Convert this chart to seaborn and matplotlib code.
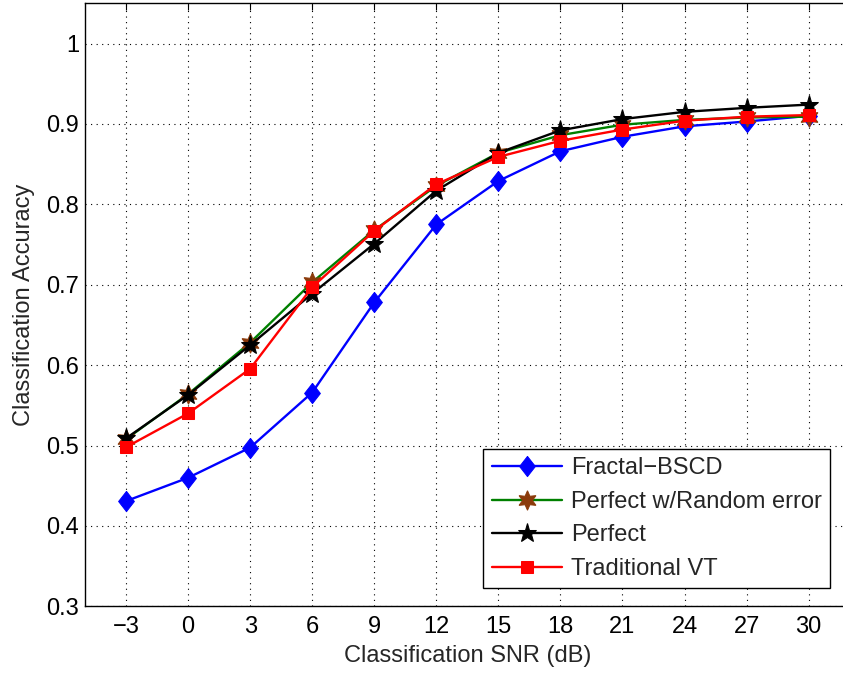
import numpy as np
import pandas as pd
import matplotlib
matplotlib.use("Agg")
import matplotlib.pyplot as plt
import seaborn as sns

snr = [-3, 0, 3, 6, 9, 12, 15, 18, 21, 24, 27, 30]
fractal_bscd = [0.431, 0.460, 0.4975, 0.566, 0.678, 0.775, 0.829, 0.866, 0.884, 0.897, 0.903, 0.910]
perfect_random = [0.508, 0.564, 0.628, 0.703, 0.768, 0.823, 0.864, 0.886, 0.899, 0.905, 0.908, 0.909]
perfect = [0.509, 0.563, 0.625, 0.689, 0.751, 0.817, 0.864, 0.892, 0.906, 0.915, 0.920, 0.924]
traditional_vt = [0.498, 0.540, 0.5955, 0.697, 0.767, 0.825, 0.859, 0.879, 0.893, 0.904, 0.909, 0.911]
labels = ["Fractal\u2212BSCD", "Perfect w/Random error", "Perfect", "Traditional VT"]
x_ticks = [-3, 0, 3, 6, 9, 12, 15, 18, 21, 24, 27, 30]
y_ticks = [0.3, 0.4, 0.5, 0.6, 0.7, 0.8, 0.9, 1.0]
y_tick_labels = ["0.3", "0.4", "0.5", "0.6", "0.7", "0.8", "0.9", "1"]

sns.set_style("white")
plt.rcParams['font.family'] = ['Liberation Sans', 'DejaVu Sans']

W, H = 843, 673
fig = plt.figure(figsize=(W / 100, H / 100), dpi=100)
left, right, top, bottom = 84.7, 850.0, 3.3, 606.4
ax = fig.add_axes([left / W, (H - bottom) / H, (right - left) / W, (bottom - top) / H])

diamond = [(0, 1), (0.78, 0), (0, -1), (-0.78, 0), (0, 1)]
series = [
    (fractal_bscd, dict(color="#0000ff", marker=diamond, markersize=14.5, markerfacecolor="#0000ff", markeredgecolor="#0000ff")),
    (perfect_random, dict(color="#008000", marker=(6, 1, 0), markersize=14, markerfacecolor="#8b3a0a", markeredgecolor="#8b3a0a")),
    (perfect, dict(color="#000000", marker="*", markersize=14, markerfacecolor="#000000", markeredgecolor="#000000")),
    (traditional_vt, dict(color="#ff0000", marker="s", markersize=9, markerfacecolor="#ff0000", markeredgecolor="#ff0000")),
]
for (vals, style), lab in zip(series, labels):
    df = pd.DataFrame({"snr": snr, "acc": vals})
    sns.lineplot(data=df, x="snr", y="acc", ax=ax, label=lab, linewidth=1.7, **style)

ax.set_xlim(-5, 32)
ax.set_ylim(0.3, 1.05)
ax.set_xticks(x_ticks)
ax.set_xticklabels([("\u2212" + str(-v)) if v < 0 else str(v) for v in x_ticks])
ax.set_yticks(y_ticks)
ax.set_yticklabels(y_tick_labels)
ax.grid(True, linestyle=(0, (1, 4)), color="black", linewidth=0.8)
ax.tick_params(direction="in", length=5, width=0.8, labelsize=17, top=True, right=True, colors="black")
ax.tick_params(axis="x", pad=7)
ax.tick_params(axis="y", pad=4)
for s in ax.spines.values():
    s.set_visible(True)
    s.set_color("black")
    s.set_linewidth(1.0)

ax.set_xlabel("Classification SNR (dB)", fontsize=17, labelpad=5)
ax.set_ylabel("Classification Accuracy", fontsize=17)
ax.yaxis.set_label_coords((35 - left) / (right - left), 0.5)

leg = ax.legend(loc="lower left", bbox_to_anchor=((483.3 - left) / (right - left), (bottom - 588.3) / (bottom - top)),
                fontsize=17, frameon=True, fancybox=False, edgecolor="black", handlelength=3.0,
                borderpad=0.35, labelspacing=0.49, handletextpad=0.35, borderaxespad=0)
leg.get_frame().set_linewidth(1.0)
leg.get_frame().set_facecolor("white")
leg.get_frame().set_alpha(1)

fig.savefig("out.png", dpi=100)
